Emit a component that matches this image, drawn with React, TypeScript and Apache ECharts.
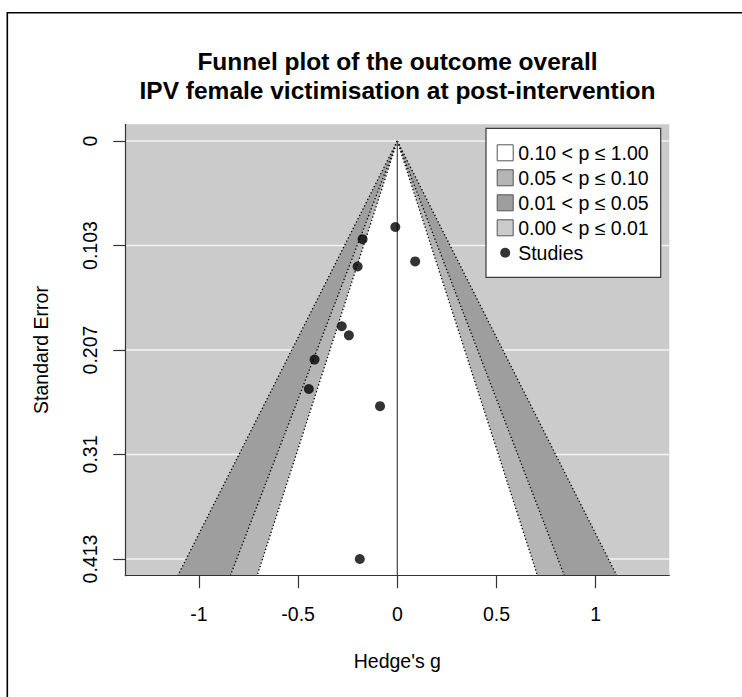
import React, { useEffect, useRef } from "react";
import * as echarts from "echarts";

const FONT = "'Liberation Sans', Arial, Helvetica, sans-serif";

const titleLines = [
  "Funnel plot of the outcome overall",
  "IPV female victimisation at post-intervention",
];
const xAxisTitle = "Hedge's g";
const yAxisTitle = "Standard Error";

// Study estimates (Hedges' g) and their standard errors
const studyG = [-0.01, -0.175, -0.2, 0.09, -0.28, -0.244, -0.417, -0.446, -0.087, -0.189];
const studySE = [0.085, 0.097, 0.124, 0.119, 0.183, 0.192, 0.216, 0.245, 0.262, 0.413];

// Axis ticks
const seTickValues = [0, 0.10325, 0.2065, 0.30975, 0.413];
const seTickLabels = ["0", "0.103", "0.207", "0.31", "0.413"];
const gTickValues = [-1, -0.5, 0, 0.5, 1];

// Contour regions (inner -> outer), z critical values for 90/95/99 %
const regionNames = ["0.10 < p ≤ 1.00", "0.05 < p ≤ 0.10", "0.01 < p ≤ 0.05", "0.00 < p ≤ 0.01"];
const regionZ = [1.645, 1.96, 2.576];
const regionColors = ["#ffffff", "#b5b5b5", "#9e9e9e", "#cbcbcb"];
const studiesName = "Studies";

// Axis ranges
const xMin = -1.371;
const xMax = 1.371;
const yMin = -0.0165;
const yMax = 0.4295;

export default function App() {
  const ref = useRef<HTMLDivElement>(null);

  useEffect(() => {
    if (!ref.current) return;
    const chart = echarts.init(ref.current, undefined, { renderer: "svg" });

    const regionSeries = [2, 1, 0].map((i) => ({
      type: "custom",
      name: regionNames[i],
      z: 5 + (2 - i),
      clip: true,
      silent: true,
      itemStyle: { color: regionColors[i] },
      encode: { x: 0, y: 1 },
      data: [[0, 0, regionZ[i]]],
      renderItem: (params: any, api: any) => {
        const zc = api.value(2);
        const apex = api.coord([0, 0]);
        const bl = api.coord([-zc * yMax, yMax]);
        const br = api.coord([zc * yMax, yMax]);
        const dotted = {
          stroke: "#000",
          lineWidth: 1.3,
          lineDash: [1.3, 2.3],
          fill: "none",
        };
        return {
          type: "group",
          children: [
            { type: "polygon", shape: { points: [apex, bl, br] }, style: { fill: regionColors[i], stroke: "none" } },
            { type: "polyline", shape: { points: [apex, bl] }, style: dotted },
            { type: "polyline", shape: { points: [apex, br] }, style: dotted },
          ],
        };
      },
    }));

    const option: any = {
      animation: false,
      backgroundColor: "#ffffff",
      textStyle: { fontFamily: FONT },
      graphic: [
        {
          type: "polyline",
          shape: { points: [[7.3, 697], [7.3, 12.7], [742, 12.7]] },
          style: { fill: "none", stroke: "#000", lineWidth: 1.6 },
          silent: true,
        },
        {
          type: "text",
          x: 397.5,
          y: 61.5,
          style: {
            text: titleLines[0],
            textAlign: "center",
            textVerticalAlign: "middle",
            font: `bold 24.5px ${FONT}`,
            fill: "#000",
          },
        },
        {
          type: "text",
          x: 397.5,
          y: 90.5,
          style: {
            text: titleLines[1],
            textAlign: "center",
            textVerticalAlign: "middle",
            font: `bold 24.5px ${FONT}`,
            fill: "#000",
          },
        },
      ],
      grid: {
        left: 125.3,
        top: 124.3,
        right: 742 - 669.3,
        bottom: 697 - 575.7,
        show: false,
        containLabel: false,
      },
      legend: {
        orient: "vertical",
        left: 486,
        top: 128.3,
        padding: [14.5, 12, 14.5, 10.7],
        itemGap: 5,
        itemWidth: 16,
        itemHeight: 16,
        itemTextGap: 10,
        backgroundColor: "#ffffff",
        borderColor: "#3a3a3a",
        borderWidth: 1.2,
        borderRadius: 0,
        selectedMode: false,
        textStyle: { fontFamily: FONT, fontSize: 19.5, color: "#000", padding: 0, width: 131 },
        data: [
          ...regionNames.map((n, i) => ({
            name: n,
            icon: "rect",
            itemStyle: { color: regionColors[i], borderColor: "#555", borderWidth: 1 },
          })),
          {
            name: studiesName,
            icon: "path://M0,0M16,16M3,8a5,5 0 1,0 10,0a5,5 0 1,0 -10,0z",
            itemStyle: { color: "#000", borderWidth: 0 },
          },
        ],
      },
      xAxis: {
        type: "value",
        min: xMin,
        max: xMax,
        z: 20,
        name: xAxisTitle,
        nameLocation: "middle",
        nameGap: 75,
        nameTextStyle: { fontFamily: FONT, fontSize: 19.5, color: "#000" },
        axisLine: { show: true, onZero: false, lineStyle: { color: "#333", width: 1.2 } },
        axisTick: { show: true, length: 12.5, customValues: gTickValues, lineStyle: { color: "#333", width: 1.2 } },
        axisLabel: {
          show: true,
          customValues: gTickValues,
          margin: 28,
          fontFamily: FONT,
          fontSize: 19.5,
          color: "#000",
          formatter: (v: number) => String(v),
        },
        splitLine: { show: false },
      },
      yAxis: {
        type: "value",
        inverse: true,
        min: yMin,
        max: yMax,
        z: 20,
        name: yAxisTitle,
        nameLocation: "middle",
        nameGap: 74,
        nameRotate: 90,
        nameTextStyle: { fontFamily: FONT, fontSize: 19.5, color: "#000" },
        axisLine: { show: true, onZero: false, lineStyle: { color: "#333", width: 1.2 } },
        axisTick: { show: true, length: 12, customValues: seTickValues, lineStyle: { color: "#333", width: 1.2 } },
        axisLabel: {
          show: true,
          customValues: seTickValues,
          rotate: 90,
          margin: 25,
          fontFamily: FONT,
          fontSize: 19.5,
          color: "#000",
          formatter: (v: number) => {
            let best = 0;
            seTickValues.forEach((t, i) => {
              if (Math.abs(t - v) < Math.abs(seTickValues[best] - v)) best = i;
            });
            return seTickLabels[best];
          },
        },
        splitLine: { show: false },
      },
      series: [
        {
          type: "custom",
          name: regionNames[3],
          z: 1,
          silent: true,
          itemStyle: { color: regionColors[3] },
          encode: { x: 0, y: 1 },
          data: [[xMin, yMin, xMax, yMax]],
          renderItem: (params: any, api: any) => {
            const p1 = api.coord([api.value(0), api.value(1)]);
            const p2 = api.coord([api.value(2), api.value(3)]);
            return {
              type: "rect",
              shape: { x: p1[0], y: p1[1], width: p2[0] - p1[0], height: p2[1] - p1[1] },
              style: { fill: regionColors[3] },
            };
          },
        },
        {
          type: "custom",
          name: "gridlines",
          z: 2,
          silent: true,
          encode: { x: 0, y: 1 },
          data: seTickValues.map((v) => [0, v]),
          renderItem: (params: any, api: any) => {
            const v = api.value(1);
            const a = api.coord([xMin, v]);
            const b = api.coord([xMax, v]);
            return {
              type: "line",
              shape: { x1: a[0], y1: a[1], x2: b[0], y2: b[1] },
              style: { stroke: "#f3f3f3", lineWidth: 1.6 },
            };
          },
        },
        ...regionSeries,
        {
          type: "line",
          name: "refline",
          z: 10,
          silent: true,
          symbol: "none",
          lineStyle: { color: "#444", width: 1.2 },
          data: [
            [0, 0],
            [0, yMax],
          ],
        },
        {
          type: "scatter",
          name: studiesName,
          z: 12,
          symbol: "circle",
          symbolSize: 10,
          itemStyle: { color: "#000" },
          data: studyG.map((g, i) => [g, studySE[i]]),
        },
      ],
    };

    chart.setOption(option);
    return () => chart.dispose();
  }, []);

  return (
    <div
      ref={ref}
      style={{ position: "absolute", left: 0, top: 0, width: 742, height: 697, background: "#fff" }}
    />
  );
}
